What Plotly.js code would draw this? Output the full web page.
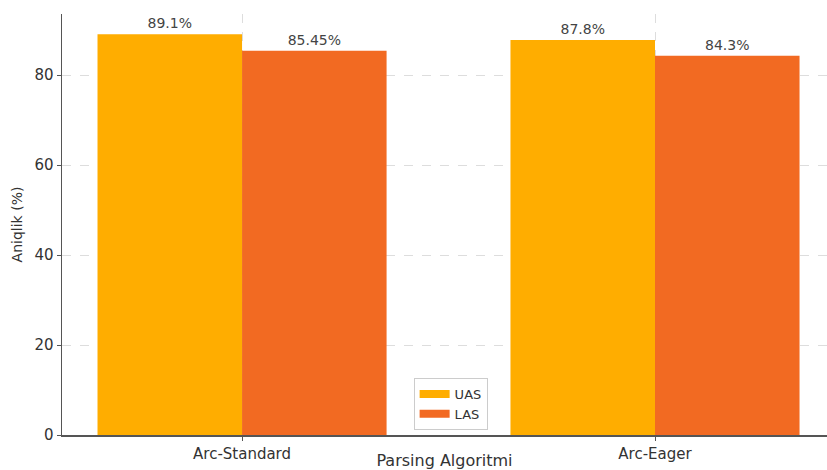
<!DOCTYPE html>
<html>
<head>
<meta charset="utf-8">
<script src="https://cdn.plot.ly/plotly-3.0.1.min.js"></script>
<style>html,body{margin:0;padding:0;background:#fff;}#chart{width:827px;height:470px;}</style>
</head>
<body>
<div id="chart"></div>
<script>
const categories = ["Arc-Standard", "Arc-Eager"];
const uasValues = [89.1, 87.8];
const lasValues = [85.45, 84.3];
const seriesNames = ["UAS", "LAS"];
const seriesColors = ["#FFAD00", "#F26A22"];
const yTicks = [0, 20, 40, 60, 80];

const font = "DejaVu Sans, sans-serif";
const barTrace = (vals, i) => ({
  type: "bar", name: seriesNames[i], x: categories, y: vals, showlegend: false,
  marker: {color: seriesColors[i], line: {width: 0}},
  text: vals.map(v => v + "%"), textposition: "outside", cliponaxis: false,
  textfont: {family: font, size: 14, color: "#444"}
});
// legend-only entries drawn as wide patches
const legendTrace = i => ({
  type: "scatter", mode: "lines", name: seriesNames[i], x: [null], y: [null],
  line: {color: seriesColors[i], width: 8}, showlegend: true, hoverinfo: "skip"
});
const traces = [barTrace(uasValues, 0), barTrace(lasValues, 1), legendTrace(0), legendTrace(1)];
const layout = {
  width: 827, height: 470,
  margin: {l: 62, r: 0, t: 14, b: 35},
  paper_bgcolor: "#fff", plot_bgcolor: "#fff",
  font: {family: font, size: 14, color: "#333"},
  barmode: "group", bargap: 0.3, bargroupgap: 0,
  showlegend: true,
  legend: {x: 0.508, y: 0.012, xanchor: "center", yanchor: "bottom",
           bgcolor: "#fff", bordercolor: "#ccc", borderwidth: 1,
           font: {family: font, size: 13, color: "#333"}},
  xaxis: {range: [-0.436, 1.4165], showline: true, linecolor: "#555", linewidth: 1.5,
          showgrid: true, gridcolor: "#ddd", griddash: "dash", gridwidth: 1,
          ticks: "outside", ticklen: 4, tickcolor: "#555",
          tickfont: {family: font, size: 15, color: "#333"},
          title: {text: "Parsing Algoritmi", font: {family: font, size: 16, color: "#333"}, standoff: 7},
          zeroline: false},
  yaxis: {range: [0, 93.6], showline: true, linecolor: "#555", linewidth: 1.5,
          tickvals: yTicks, showgrid: true, gridcolor: "#ddd", griddash: "dash", gridwidth: 1,
          ticks: "outside", ticklen: 4, tickcolor: "#555",
          tickfont: {family: font, size: 15, color: "#333"},
          title: {text: "Aniqlik (%)", font: {family: font, size: 14, color: "#333"}, standoff: 8},
          zeroline: false}
};
Plotly.newPlot("chart", traces, layout, {displayModeBar: false, staticPlot: true});
</script>
</body>
</html>
